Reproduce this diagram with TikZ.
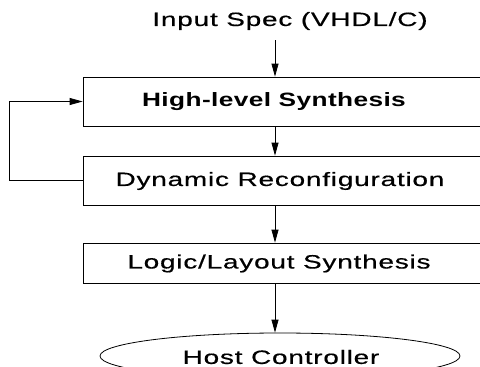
\documentclass[tikz,border=0pt]{standalone}
\usepackage{fontspec}
\newfontfamily\regfont{Liberation Sans}[FakeStretch=1.45,LetterSpace=4,FakeBold=0.5]
\newfontfamily\boldfont{Liberation Sans}[FakeStretch=1.36,LetterSpace=2]
\usetikzlibrary{arrows.meta,shapes.geometric}
\begin{document}
\begin{tikzpicture}[x=1pt,y=-1pt,
  every node/.style={font=\regfont\fontsize{19.3}{23}\selectfont, inner sep=0pt},
  stepbox/.style={draw, line width=0.8pt, minimum width=404pt, minimum height=#1},
  arr/.style={line width=0.8pt, -{Triangle[length=13pt,width=7pt]}},
  ln/.style={line width=0.8pt}]
\useasboundingbox (0,0) rectangle (480,367);
\clip (0,0) rectangle (480,367);
\node (inp) at (290,21) {Input Spec (VHDL/C)};
\node[stepbox=49pt] (hls) at (285,101.5) {};
\node[stepbox=49pt] (dyn) at (285,180.5) {};
\node[stepbox=40pt] (lls) at (285,263) {};
\node[draw, ellipse, line width=0.8pt, minimum width=360pt, minimum height=46pt] (host) at (280,356) {};
\node[font=\boldfont\bfseries\fontsize{19.3}{23}\selectfont] (hlsT) at (274,102) {High-level Synthesis};
\node (dynT) at (280,181) {Dynamic Reconfiguration};
\node (llsT) at (279,263.5) {Logic/Layout Synthesis};
\node (hostT) at (281,357) {Host Controller};
\coordinate (a0) at (275,40);
\draw[arr] (a0) -- (a0 |- hls.north);
\draw[arr] (hls.south -| a0) -- (dyn.north -| a0);
\draw[arr] (dyn.south -| a0) -- (lls.north -| a0);
\draw[arr] (lls.south -| a0) -- (host.north -| a0);
\draw[arr] (dyn.west) -- ++(-73,0) |- (hls.west);
\end{tikzpicture}
\end{document}
